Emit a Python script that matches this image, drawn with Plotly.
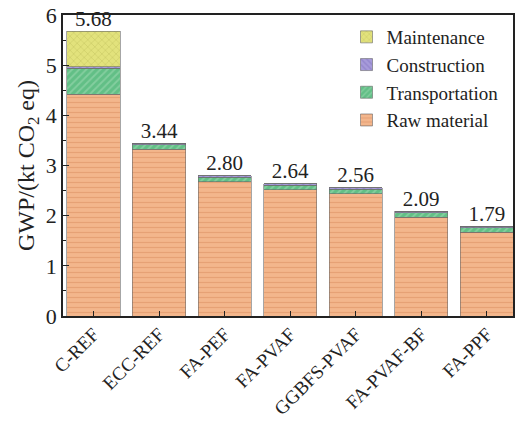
import plotly.graph_objects as go

# Global warming potential by mix and life-cycle stage (kt CO2 eq)
categories = ["C-REF", "ECC-REF", "FA-PEF", "FA-PVAF", "GGBFS-PVAF", "FA-PVAF-BF", "FA-PPF"]
raw_material = [4.42, 3.32, 2.68, 2.52, 2.44, 1.97, 1.67]
transportation = [0.52, 0.09, 0.09, 0.09, 0.09, 0.09, 0.09]
construction = [0.03, 0.03, 0.03, 0.03, 0.03, 0.03, 0.03]
maintenance = [0.71, 0.0, 0.0, 0.0, 0.0, 0.0, 0.0]
totals = [5.68, 3.44, 2.80, 2.64, 2.56, 2.09, 1.79]
y_ticks = [0, 1, 2, 3, 4, 5, 6]

FONT = "Liberation Serif"

series = [
    ("Raw material", raw_material, "#F3B68C", "#D98C5E", "-", 0.25),
    ("Transportation", transportation, "#62BF86", "#A6DDB8", "/", 0.35),
    ("Construction", construction, "#A79BDA", "#7E70BE", "\\", 0.35),
    ("Maintenance", maintenance, "#E2E27C", "#B9B955", "x", 0.25),
]

fig = go.Figure()
for name, vals, color, fg, shape, sol in series:
    fig.add_trace(go.Bar(
        x=categories, y=vals, name=name, width=0.81,
        marker=dict(
            color=color,
            line=dict(color="#6a6a6a", width=0.6),
            pattern=dict(shape=shape, fgcolor=fg, bgcolor=color, size=5, solidity=sol),
        ),
    ))

# total value labels above each bar
fig.add_trace(go.Scatter(
    x=categories, y=totals, mode="text",
    text=[f"{v:.2f}" for v in totals], textposition="top center",
    textfont=dict(family=FONT, size=21, color="#222"),
    showlegend=False, hoverinfo="skip", cliponaxis=False,
))

fig.update_layout(
    width=516, height=421,
    margin=dict(l=63, r=3, t=15, b=105),
    barmode="stack",
    paper_bgcolor="white", plot_bgcolor="white",
    font=dict(family=FONT, size=20, color="#222"),
    legend=dict(
        x=0.63, y=0.99, xanchor="left", yanchor="top",
        traceorder="reversed", bgcolor="rgba(0,0,0,0)",
        font=dict(family=FONT, size=19, color="#222"),
        itemwidth=30, tracegroupgap=0,
    ),
    xaxis=dict(
        showline=True, linecolor="#222", linewidth=1.5, mirror=True,
        ticks="inside", ticklen=5, tickcolor="#222", tickangle=-45,
        tickfont=dict(family=FONT, size=19), ticklabelstandoff=-2,
        range=[-0.465, 6.40], automargin=False,
    ),
    yaxis=dict(
        range=[0, 6], tickvals=y_ticks, automargin=False,
        showline=True, linecolor="#222", linewidth=1.5, mirror=True,
        ticks="inside", ticklen=6, tickcolor="#222",
        minor=dict(ticks="inside", ticklen=3, dtick=0.5, tickcolor="#222"),
        showgrid=False, zeroline=False,
        tickfont=dict(family=FONT, size=22),
        title=dict(text="GWP/(kt CO<sub>2</sub> eq)", font=dict(family=FONT, size=24), standoff=4),
    ),
)

fig.write_html("out.html")
